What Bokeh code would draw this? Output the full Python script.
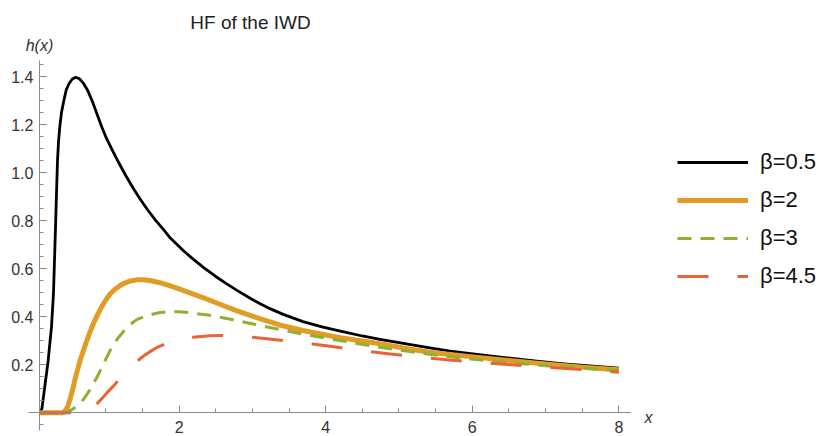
from bokeh.plotting import figure
from bokeh.models import LinearAxis, FixedTicker, Label, Legend, LegendItem, Range1d, PrintfTickFormatter
from bokeh.embed import file_html
from bokeh.resources import INLINE

# ---- data ----
x_b05 = [0.10, 0.11, 0.13, 0.155, 0.185, 0.214, 0.237, 0.259, 0.273, 0.286, 0.30, 0.314, 0.327,
         0.341, 0.355, 0.372, 0.395, 0.427, 0.46, 0.495, 0.54, 0.587, 0.64, 0.69, 0.75, 0.82,
         0.88, 0.94, 1.00, 1.08, 1.17, 1.27, 1.37, 1.47, 1.57, 1.68, 1.78, 1.88, 2.06, 2.20, 2.34,
         2.50, 2.65, 2.79, 2.97, 3.10, 3.24, 3.42, 3.69, 3.95, 4.20, 4.50, 4.74, 5.00, 5.42,
         5.70, 5.98, 6.38, 6.88, 7.29, 7.65, 8.0]
h_b05 = [0.0, 0.0, 0.02, 0.08, 0.15, 0.218, 0.29, 0.357, 0.43, 0.496, 0.635, 0.773, 0.91,
         1.05, 1.13, 1.19, 1.25, 1.30, 1.345, 1.37, 1.39, 1.398, 1.392, 1.375, 1.345, 1.295,
         1.245, 1.195, 1.15, 1.10, 1.046, 0.99, 0.938, 0.89, 0.846, 0.802, 0.766, 0.728, 0.675, 0.638, 0.604,
         0.568, 0.537, 0.51, 0.477, 0.455, 0.434, 0.41, 0.38, 0.358, 0.34, 0.32, 0.306, 0.292, 0.27,
         0.257, 0.246, 0.232, 0.2155, 0.203, 0.194, 0.186]

x_b2 = [0.10, 0.40, 0.42, 0.45, 0.485, 0.52, 0.55, 0.58, 0.615, 0.65, 0.695, 0.74, 0.785, 0.83,
        0.885, 0.94, 1.00, 1.06, 1.14, 1.22, 1.32, 1.42, 1.52, 1.62, 1.75, 1.88, 2.00, 2.12,
        2.27, 2.42, 2.60, 2.78, 2.95, 3.10, 3.37, 3.69, 3.95, 4.20, 4.50, 4.74, 5.10, 5.42,
        5.70, 5.98, 6.50, 7.00, 7.50, 8.0]
h_b2 = [0.0, 0.0, 0.002, 0.01, 0.03, 0.065, 0.10, 0.14, 0.18, 0.218, 0.26, 0.30, 0.337, 0.371,
        0.407, 0.44, 0.47, 0.496, 0.518, 0.535, 0.548, 0.554, 0.554, 0.550, 0.541, 0.529, 0.516, 0.503,
        0.486, 0.469, 0.447, 0.426, 0.408, 0.392, 0.366, 0.343, 0.327, 0.313, 0.299, 0.2875, 0.268, 0.2525,
        0.243, 0.234, 0.218, 0.203, 0.19, 0.179]

x_b3 = [0.10, 0.45, 0.52, 0.56, 0.61, 0.66, 0.70, 0.75, 0.80, 0.88, 0.97, 1.06, 1.17, 1.29,
        1.42, 1.56, 1.72, 1.88, 2.00, 2.12, 2.42, 2.72, 3.01, 3.37, 3.56, 3.85, 4.11, 4.40,
        4.74, 5.10, 5.42, 5.70, 5.98, 6.50, 7.00, 7.50, 8.0]
h_b3 = [0.0, 0.0, 0.01, 0.018, 0.03, 0.044, 0.058, 0.08, 0.105, 0.148, 0.205, 0.26, 0.313, 0.357,
        0.388, 0.405, 0.417, 0.422, 0.421, 0.418, 0.406, 0.389, 0.37, 0.347, 0.336, 0.319, 0.305, 0.29,
        0.273, 0.257, 0.244, 0.233, 0.224, 0.209, 0.196, 0.186, 0.176]

x_b45 = [0.10, 0.72, 0.79, 0.88, 0.95, 1.02, 1.10, 1.17, 1.30, 1.44, 1.53, 1.62, 1.71, 1.81,
         1.99, 2.19, 2.42, 2.60, 2.82, 3.10, 3.42, 3.82, 4.06, 4.45, 4.85, 5.25, 5.65, 6.05,
         6.48, 6.90, 7.34, 7.70, 8.0]
h_b45 = [0.0, 0.0, 0.01, 0.0375, 0.06, 0.085, 0.11, 0.135, 0.18, 0.218, 0.24, 0.258, 0.274, 0.2875,
         0.305, 0.315, 0.321, 0.322, 0.319, 0.312, 0.301, 0.287, 0.277, 0.261, 0.246, 0.233, 0.221, 0.211,
         0.201, 0.192, 0.183, 0.176, 0.169]

labels = ["\u03b2=0.5", "\u03b2=2", "\u03b2=3", "\u03b2=4.5"]

x_ticks = [2, 4, 6, 8]
x_minor = [0.5, 1.0, 1.5, 2.5, 3.0, 3.5, 4.5, 5.0, 5.5, 6.5, 7.0, 7.5]
y_ticks = [0.2, 0.4, 0.6, 0.8, 1.0, 1.2, 1.4]
y_minor = [-0.05, 0.05, 0.1, 0.15, 0.25, 0.3, 0.35, 0.45, 0.5, 0.55, 0.65, 0.7, 0.75,
           0.85, 0.9, 0.95, 1.05, 1.1, 1.15, 1.25, 1.3, 1.35, 1.45]

FONT = "Liberation Sans"
AX = "#8a8a8a"
TXT = "#333333"

p = figure(width=822, height=436, output_backend="svg", toolbar_location=None,
           x_range=Range1d(-0.4366, 10.778), y_range=Range1d(-0.0988, 1.718),
           x_axis_location=None, y_axis_location=None, min_border=0)
p.outline_line_color = None
p.grid.visible = False
p.background_fill_color = "white"
p.border_fill_color = "white"

xaxis = LinearAxis(fixed_location=0, bounds=(-0.055, 8.16),
                   ticker=FixedTicker(ticks=x_ticks, minor_ticks=x_minor),
                   formatter=PrintfTickFormatter(format="%d"))
yaxis = LinearAxis(fixed_location=0.095, bounds=(-0.074, 1.468),
                   ticker=FixedTicker(ticks=y_ticks, minor_ticks=y_minor),
                   formatter=PrintfTickFormatter(format="%.1f"))
for ax in (xaxis, yaxis):
    ax.axis_line_color = AX
    ax.axis_line_width = 1
    ax.major_tick_line_color = AX
    ax.minor_tick_line_color = AX
    ax.major_tick_in = 7
    ax.major_tick_out = 0
    ax.minor_tick_in = 4
    ax.minor_tick_out = 0
    ax.major_label_text_font = FONT
    ax.major_label_text_font_size = "16px"
    ax.major_label_text_color = TXT
xaxis.major_label_standoff = 8
yaxis.major_label_standoff = 6
p.add_layout(xaxis, "below")
p.add_layout(yaxis, "left")

r1 = p.line(x_b05, h_b05, line_color="black", line_width=2.8, line_join="round")
r2 = p.line(x_b2, h_b2, line_color="#E19C24", line_width=5, line_join="round")
r3 = p.line(x_b3, h_b3, line_color="#8FB032", line_width=3, line_dash="14 9", line_join="round")
r4 = p.line(x_b45, h_b45, line_color="#EB6235", line_width=3, line_dash="31 29", line_join="round")

legend = Legend(items=[LegendItem(label=labels[0], renderers=[r1]),
                       LegendItem(label=labels[1], renderers=[r2]),
                       LegendItem(label=labels[2], renderers=[r3]),
                       LegendItem(label=labels[3], renderers=[r4])],
                location=(677, 145), glyph_width=71, glyph_height=30, label_height=30,
                spacing=8, padding=0, margin=0, label_standoff=12,
                label_text_font=FONT, label_text_font_size="22px", label_text_color="#111111",
                border_line_color=None, background_fill_alpha=0)
p.add_layout(legend, "center")

p.add_layout(Label(x=250, y=436 - 22, x_units="screen", y_units="screen", text="HF of the IWD",
                   text_align="center", text_baseline="alphabetic", text_font=FONT,
                   text_font_size="19px", text_color="#222222"))
p.add_layout(Label(x=39, y=436 - 45, x_units="screen", y_units="screen", text="h(x)",
                   text_align="center", text_baseline="alphabetic", text_font=FONT,
                   text_font_style="italic", text_font_size="16px", text_color=TXT))
p.add_layout(Label(x=648, y=436 - 417, x_units="screen", y_units="screen", text="x",
                   text_align="center", text_baseline="alphabetic", text_font=FONT,
                   text_font_style="italic", text_font_size="16px", text_color=TXT))

open("out.html", "w").write(file_html(p, INLINE))
